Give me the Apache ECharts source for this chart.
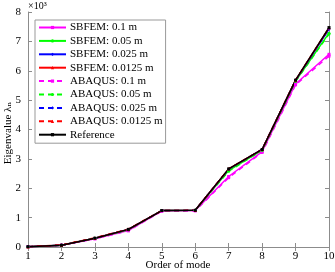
<!DOCTYPE html>
<html>
<head>
<meta charset="utf-8">
<script src="https://cdn.jsdelivr.net/npm/echarts@6/dist/echarts.min.js"></script>
<style>
  html, body { margin: 0; padding: 0; background: #fff; }
  #main { width: 335px; height: 272px; }
</style>
</head>
<body>
<div id="main"></div>
<script>
// mode order and eigenvalues (x10^3)
var modes = ['1', '2', '3', '4', '5', '6', '7', '8', '9', '10'];
var sbfem01 = [0.01, 0.06, 0.28, 0.56, 1.23, 1.24, 2.40, 3.25, 5.55, 6.56];
var sbfem005 = [0.01, 0.06, 0.30, 0.59, 1.24, 1.25, 2.60, 3.30, 5.65, 7.28];
var sbfem0025 = [0.01, 0.06, 0.30, 0.60, 1.24, 1.25, 2.65, 3.32, 5.67, 7.42];
var sbfem00125 = [0.01, 0.06, 0.30, 0.60, 1.24, 1.25, 2.66, 3.32, 5.68, 7.46];
var abaqus01 = [0.01, 0.06, 0.28, 0.55, 1.22, 1.23, 2.36, 3.22, 5.52, 6.50];
var abaqus005 = [0.01, 0.06, 0.30, 0.59, 1.24, 1.25, 2.58, 3.29, 5.64, 7.25];
var abaqus0025 = [0.01, 0.06, 0.30, 0.60, 1.24, 1.25, 2.65, 3.32, 5.67, 7.42];
var abaqus00125 = [0.01, 0.07, 0.31, 0.61, 1.24, 1.25, 2.66, 3.32, 5.68, 7.46];
var reference = [0.01, 0.06, 0.30, 0.60, 1.24, 1.25, 2.66, 3.32, 5.68, 7.47];

var font = '"Liberation Serif", "DejaVu Serif", serif';
var axisGray = '#8c8c8c';

function mk(name, data, color, symbol, dashed) {
    return {
        name: name,
        type: 'line',
        data: data,
        symbol: symbol,
        symbolSize: 3,
        showSymbol: true,
        itemStyle: { color: color },
        lineStyle: { color: color, width: 1.5, type: dashed ? [5, 4] : 'solid' },
        animation: false
    };
}

var series = [
    mk('ABAQUS: 0.1 m', abaqus01, '#ff00ff', 'rect', true),
    mk('SBFEM: 0.1 m', sbfem01, '#ff00ff', 'rect', false),
    mk('ABAQUS: 0.05 m', abaqus005, '#00ff00', 'circle', true),
    mk('SBFEM: 0.05 m', sbfem005, '#00ff00', 'circle', false),
    mk('ABAQUS: 0.025 m', abaqus0025, '#0000ff', 'diamond', true),
    mk('SBFEM: 0.025 m', sbfem0025, '#0000ff', 'diamond', false),
    mk('ABAQUS: 0.0125 m', abaqus00125, '#ff0000', 'triangle', true),
    mk('SBFEM: 0.0125 m', sbfem00125, '#ff0000', 'triangle', false),
    mk('Reference', reference, '#000000', 'rect', false)
];

var chart = echarts.init(document.getElementById('main'));
chart.setOption({
    backgroundColor: '#fff',
    textStyle: { fontFamily: font },
    grid: { left: 28, right: 6, top: 12, bottom: 25, containLabel: false, outerBoundsMode: 'none' },
    legend: {
        data: ['SBFEM: 0.1 m', 'SBFEM: 0.05 m', 'SBFEM: 0.025 m', 'SBFEM: 0.0125 m',
            'ABAQUS: 0.1 m', 'ABAQUS: 0.05 m', 'ABAQUS: 0.025 m', 'ABAQUS: 0.0125 m', 'Reference'],
        orient: 'vertical',
        left: 35,
        top: 20,
        itemWidth: 27,
        itemHeight: 4,
        itemGap: 2.4,
        padding: [2, 3, 3, 3],
        borderColor: '#999',
        borderWidth: 1,
        backgroundColor: '#fff',
        textStyle: { fontFamily: font, fontSize: 11, lineHeight: 11, color: '#000', padding: [0, 0, 0, -1] }
    },
    xAxis: [{
        type: 'category',
        data: modes,
        boundaryGap: false,
        axisLine: { lineStyle: { color: axisGray } },
        axisTick: { inside: true, length: 4, lineStyle: { color: axisGray } },
        axisLabel: { fontFamily: font, fontSize: 11, color: '#000', margin: 4 },
        splitLine: { show: false }
    }, {
        type: 'category',
        data: modes,
        boundaryGap: false,
        position: 'top',
        axisLine: { lineStyle: { color: axisGray } },
        axisTick: { inside: true, length: 4, lineStyle: { color: axisGray } },
        axisLabel: { show: false }
    }],
    yAxis: [{
        type: 'value',
        min: 0,
        max: 8,
        interval: 1,
        axisLine: { show: true, lineStyle: { color: axisGray } },
        axisTick: { show: true, inside: true, length: 4, lineStyle: { color: axisGray } },
        axisLabel: { fontFamily: font, fontSize: 11, color: '#000', margin: 7 },
        splitLine: { show: false }
    }, {
        type: 'value',
        min: 0,
        max: 8,
        interval: 1,
        position: 'right',
        axisLine: { show: true, lineStyle: { color: axisGray } },
        axisTick: { show: true, inside: true, length: 4, lineStyle: { color: axisGray } },
        axisLabel: { show: false },
        splitLine: { show: false }
    }],
    graphic: [{
        type: 'text',
        left: 28,
        top: 1,
        style: { text: '×10³', font: '10px ' + font, fill: '#000' }
    }, {
        // x axis title
        type: 'text',
        x: 178,
        y: 265,
        style: { text: 'Order of mode', font: '11px ' + font, fill: '#000', align: 'center', verticalAlign: 'middle' }
    }, {
        // y axis title
        type: 'text',
        x: 8,
        y: 133,
        rotation: Math.PI / 2,
        style: { text: 'Eigenvalue λ\u2099', font: '11px ' + font, fill: '#000', align: 'center', verticalAlign: 'middle' }
    }],
    series: series
});
</script>
</body>
</html>
